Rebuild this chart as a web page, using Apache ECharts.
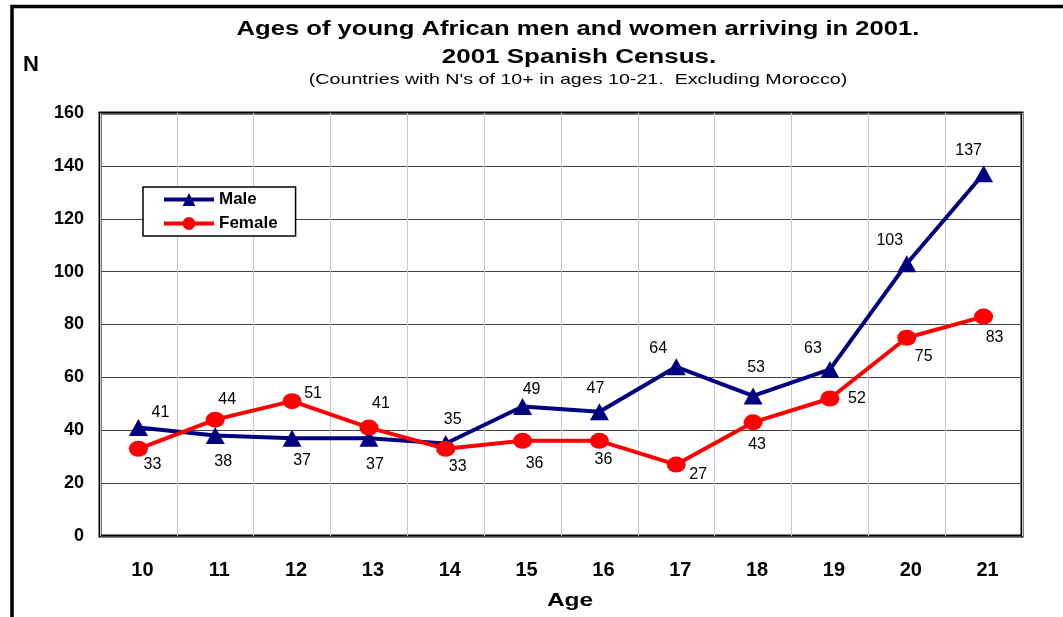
<!DOCTYPE html>
<html>
<head>
<meta charset="utf-8">
<script src="https://cdn.jsdelivr.net/npm/echarts@6/dist/echarts.min.js"></script>
<style>
  html, body { margin: 0; padding: 0; background: #fff; }
  #chart { width: 1063px; height: 617px; }
</style>
</head>
<body>
<div id="chart"></div>
<script>
// Ages 10-21, counts by sex
const ages = ['10', '11', '12', '13', '14', '15', '16', '17', '18', '19', '20', '21'];
const male = [41, 38, 37, 37, 35, 49, 47, 64, 53, 63, 103, 137];
const female = [33, 44, 51, 41, 33, 36, 36, 27, 43, 52, 75, 83];
const yTicks = { min: 0, max: 160, interval: 20 };

// Label placement around each marker (pixel offsets from the marker centre)
const maleLabelOffsets = [[22, -15], [8, 26], [10, 22], [6, 26], [7, -24], [9, -17], [-4, -23], [-18, -18], [3, -28], [-17, -21], [-17, -23], [-15, -23]];
const femaleLabelOffsets = [[14, 16], [12, -20], [21, -8], [12, -24], [12, 18], [12, 23], [4, 19], [22, 10], [4, 22], [27, 0], [17, 19], [11, 21]];

const FONT = '"Liberation Sans", Arial, sans-serif';
const NAVY = '#000080';
const RED = '#ff0000';
const ELLIPSE = 'path://M0,10 A10,10 0 1,1 20,10 A10,10 0 1,1 0,10 Z';

const withLabels = (vals, offs) => vals.map((v, i) => ({ value: v, label: { offset: offs[i] } }));

// Wide-set heading text (scaled horizontally around its centre)
const wideText = (text, x, y, font, sx) => ({
  type: 'text', x: x, y: y, scaleX: sx, scaleY: 1,
  style: { text: text, font: font, fill: '#000', align: 'center', verticalAlign: 'middle' }
});

const chart = echarts.init(document.getElementById('chart'), null, { renderer: 'canvas' });
chart.setOption({
  animation: false,
  backgroundColor: '#fff',
  textStyle: { fontFamily: FONT },
  graphic: [
    { type: 'polyline', shape: { points: [[12, 640], [12, 6.5], [1080, 6.5]] }, style: { stroke: '#000', lineWidth: 3.5, fill: null } },
    wideText('Ages of young African men and women arriving in 2001.', 578, 29, 'bold 20px ' + FONT, 1.28),
    wideText('2001 Spanish Census.', 579, 57, 'bold 20px ' + FONT, 1.3),
    wideText("(Countries with N's of 10+ in ages 10-21.  Excluding Morocco)", 578, 80, '15px ' + FONT, 1.31),
    { type: 'text', x: 31, y: 65, style: { text: 'N', font: 'bold 22px ' + FONT, fill: '#000', align: 'center', verticalAlign: 'middle' } },
    wideText('Age', 570, 601, 'bold 18px ' + FONT, 1.36)
  ],
  legend: {
    orient: 'vertical',
    left: 143,
    top: 187,
    padding: [4, 18, 4, 19],
    itemGap: 7,
    itemWidth: 50,
    itemHeight: 16,
    backgroundColor: '#fff',
    borderColor: '#000',
    borderWidth: 1.5,
    borderRadius: 0,
    lineStyle: { width: 4 },
    textStyle: { fontFamily: FONT, fontWeight: 'bold', fontSize: 17, color: '#000' },
    data: ['Male', 'Female']
  },
  grid: {
    left: 100, right: 41, top: 113, bottom: 81,
    show: true, borderColor: '#000', borderWidth: 3, backgroundColor: 'transparent'
  },
  xAxis: {
    type: 'category',
    data: ages,
    boundaryGap: true,
    axisLine: { show: false },
    axisTick: { show: false },
    axisLabel: { margin: 24, padding: [0, 0, 0, 8], fontFamily: FONT, fontWeight: 'bold', fontSize: 20, color: '#000' },
    splitLine: { show: true, lineStyle: { color: '#c8c8c8', width: 1 } }
  },
  yAxis: {
    type: 'value',
    min: yTicks.min, max: yTicks.max, interval: yTicks.interval,
    axisLine: { show: false },
    axisTick: { show: false },
    axisLabel: { margin: 16, fontFamily: FONT, fontWeight: 'bold', fontSize: 18, color: '#000' },
    splitLine: { show: true, lineStyle: { color: '#444', width: 1 } }
  },
  series: [
    {
      name: 'Male', type: 'line', data: withLabels(male, maleLabelOffsets),
      symbol: 'triangle', symbolSize: [19, 17],
      lineStyle: { color: NAVY, width: 4 }, itemStyle: { color: NAVY },
      label: { show: true, position: 'inside', fontFamily: FONT, fontSize: 16, color: '#000' },
      z: 3
    },
    {
      name: 'Female', type: 'line', data: withLabels(female, femaleLabelOffsets),
      symbol: ELLIPSE, symbolSize: [19, 16],
      lineStyle: { color: RED, width: 4 }, itemStyle: { color: RED },
      label: { show: true, position: 'inside', fontFamily: FONT, fontSize: 16, color: '#000' },
      z: 4
    }
  ]
});
</script>
</body>
</html>
